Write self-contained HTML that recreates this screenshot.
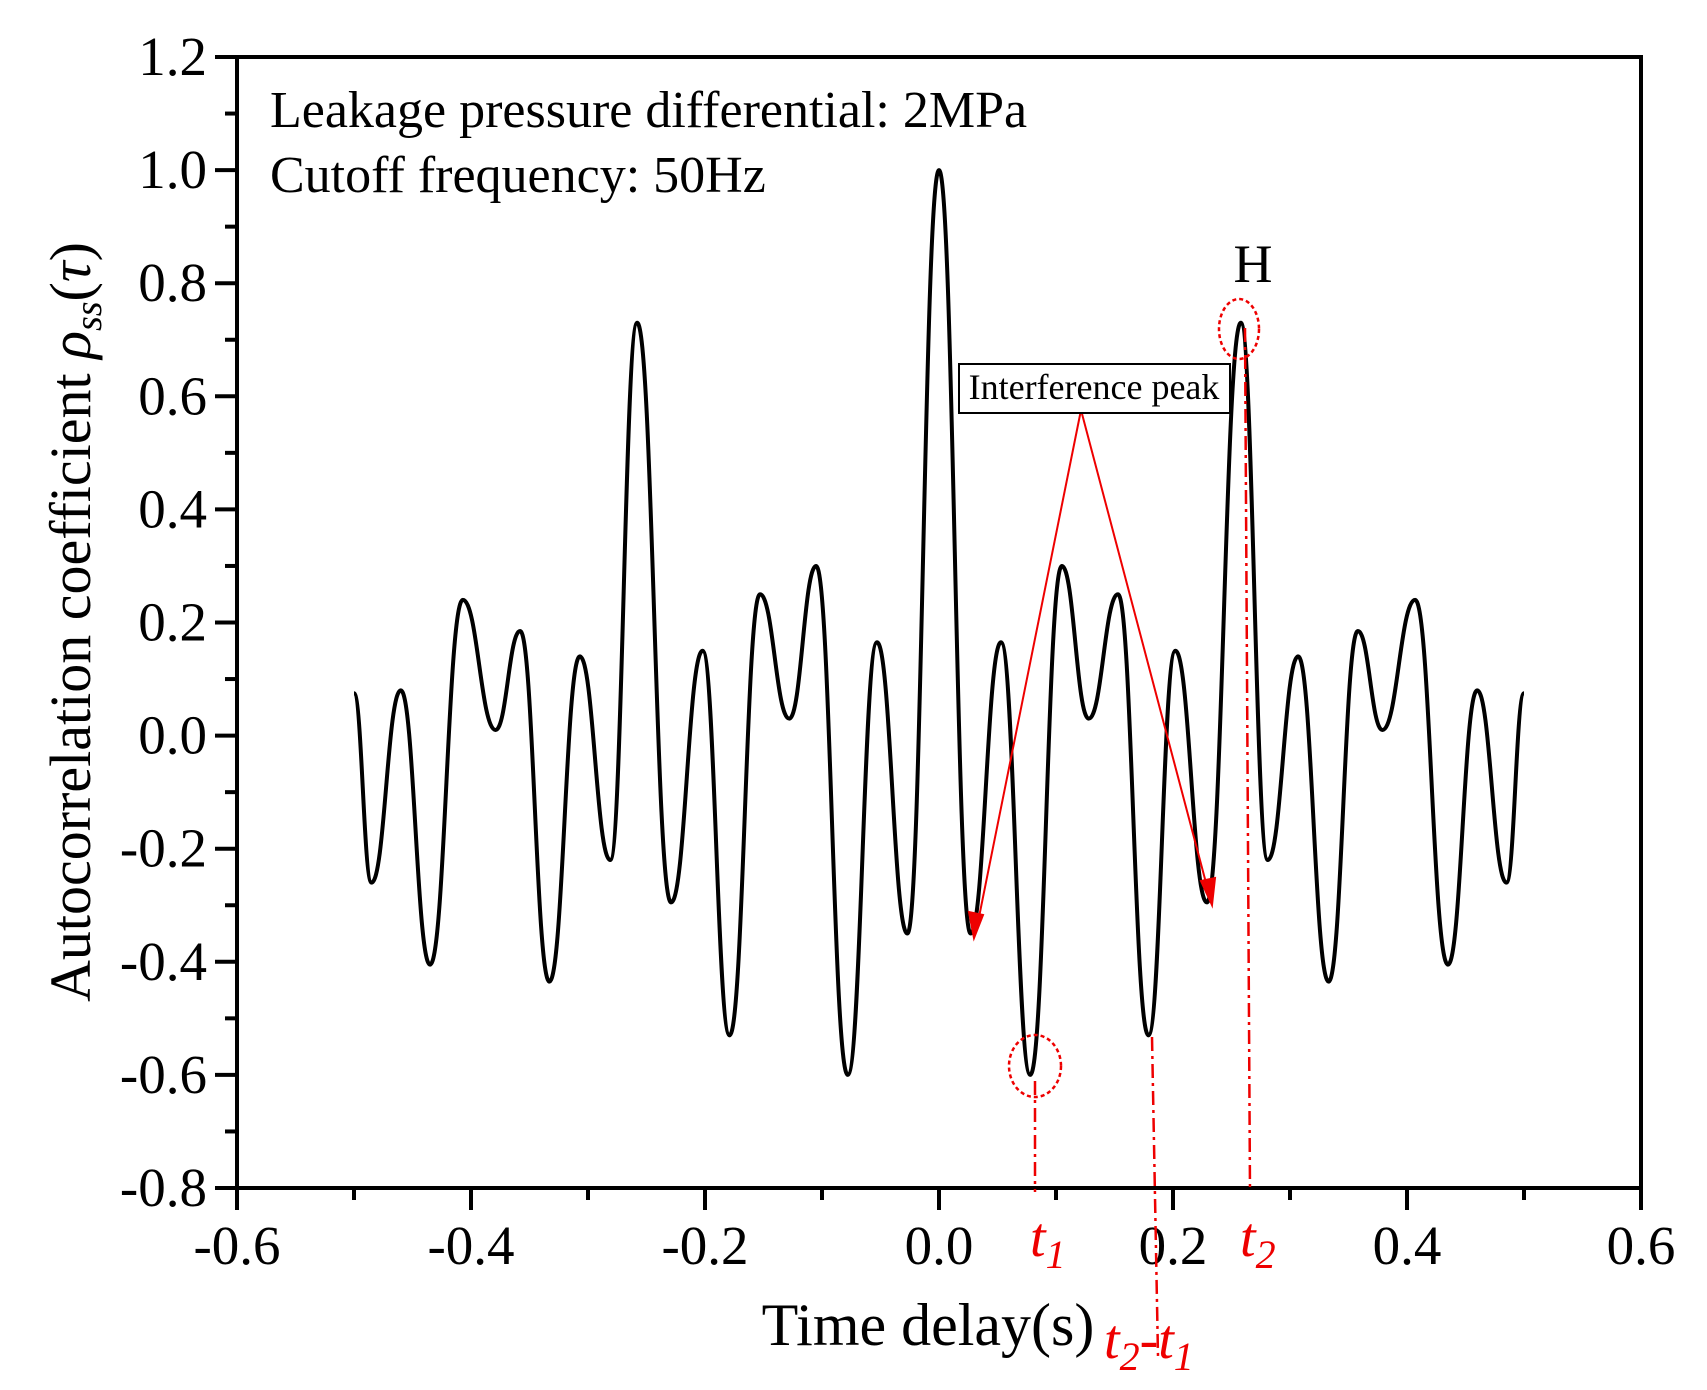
<!DOCTYPE html>
<html><head><meta charset="utf-8"><style>
body{margin:0;background:#fff}
svg{display:block;font-family:"Liberation Serif",serif}
</style></head><body>
<svg id="chart" width="1707" height="1390" viewBox="0 0 1707 1390" xmlns="http://www.w3.org/2000/svg">
<rect width="1707" height="1390" fill="#fff"/>
<g id="axes"></g>
<path id="curve" fill="none" stroke="#000" stroke-width="4"/>
<text x="270" y="127" font-size="52">Leakage pressure differential: 2MPa</text>
<text x="270" y="192" font-size="52">Cutoff frequency: 50Hz</text>
<text transform="translate(90,622) rotate(-90)" text-anchor="middle" font-size="58">Autocorrelation coefficient <tspan font-style="italic">ρ</tspan><tspan font-style="italic" font-size="38" dy="11">ss</tspan><tspan dy="-11">(</tspan><tspan font-style="italic">τ</tspan>)</text>
<text x="928" y="1345" text-anchor="middle" font-size="60">Time delay(s)</text>
<text x="1104" y="1358" fill="#e00" font-size="56" font-style="italic">t<tspan font-size="40" dy="12">2</tspan><tspan dy="-12" font-style="normal">-</tspan>t<tspan font-size="40" dy="12">1</tspan></text>
<text x="1030" y="1256" fill="#e00" font-size="56" font-style="italic">t<tspan font-size="40" dy="12">1</tspan></text>
<text x="1240" y="1256" fill="#e00" font-size="56" font-style="italic">t<tspan font-size="40" dy="12">2</tspan></text>
<text x="1253" y="282" text-anchor="middle" font-size="54">H</text>
<ellipse cx="1239" cy="329" rx="20" ry="30" fill="none" stroke="#e00" stroke-width="2.5" stroke-dasharray="4 3"/>
<ellipse cx="1035" cy="1066" rx="26" ry="31" fill="none" stroke="#e00" stroke-width="2.5" stroke-dasharray="4 3"/>
<g stroke="#e00" stroke-width="2.5" stroke-dasharray="14 5 3 5" fill="none">
<line x1="1035" y1="1081" x2="1035" y2="1192"/>
<line x1="1152" y1="1037" x2="1158" y2="1356"/>
<line x1="1245" y1="328" x2="1250" y2="1192"/>
</g>
<g stroke="#e00" stroke-width="2" fill="#e00">
<line x1="1081" y1="410" x2="976" y2="932"/>
<line x1="1081" y1="410" x2="1210" y2="898"/>
<polygon points="974,938 969,912 983,915"/>
<polygon points="1212,905 1201,881 1215,878"/>
</g>
<rect x="959" y="364" width="271" height="49" fill="#fff" stroke="#000" stroke-width="2"/>
<text x="1094" y="399" text-anchor="middle" font-size="36">Interference peak</text>
</svg>
<script>
const extremaX=[-0.5,-0.485,-0.46,-0.435,-0.407,-0.379,-0.358,-0.333,-0.307,-0.281,-0.258,-0.229,-0.202,-0.179,-0.153,-0.128,-0.105,-0.078,-0.053,-0.027,0,0.027,0.053,0.078,0.105,0.128,0.153,0.179,0.202,0.229,0.258,0.281,0.307,0.333,0.358,0.379,0.407,0.435,0.46,0.485,0.5];
const extremaY=[0.075,-0.26,0.08,-0.405,0.24,0.01,0.185,-0.435,0.14,-0.22,0.73,-0.295,0.15,-0.53,0.25,0.03,0.30,-0.60,0.165,-0.35,1.0,-0.35,0.165,-0.60,0.30,0.03,0.25,-0.53,0.15,-0.295,0.73,-0.22,0.14,-0.435,0.185,0.01,0.24,-0.405,0.08,-0.26,0.075];
const xTicks=[-0.6,-0.4,-0.2,0.0,0.2,0.4,0.6];
const yTicks=[-0.8,-0.6,-0.4,-0.2,0.0,0.2,0.4,0.6,0.8,1.0,1.2];
const NS="http://www.w3.org/2000/svg";
const X0=237,X1=1641,Y0=1188,Y1=57;
const sx=v=>X0+(v+0.6)/1.2*(X1-X0);
const sy=v=>Y0-(v+0.8)/2.0*(Y0-Y1);
const ax=document.getElementById('axes');
function mk(t,a){const e=document.createElementNS(NS,t);for(const k in a)e.setAttribute(k,a[k]);ax.appendChild(e);return e;}
const frame=mk('rect',{x:X0,y:Y1,width:X1-X0,height:Y0-Y1,fill:'none',stroke:'#000','stroke-width':4});


xTicks.forEach(v=>{
 const l=mk('line',{x1:sx(v),x2:sx(v),y1:Y0,y2:Y0+22,stroke:'#000','stroke-width':4});
 
 
 const t=mk('text',{x:sx(v),y:Y0+76,'text-anchor':'middle','font-size':55});
 
 
 t.textContent=v.toFixed(1);
});
for(let i=0;i<xTicks.length-1;i++){const v=(xTicks[i]+xTicks[i+1])/2;
 const l=mk('line',{x1:sx(v),x2:sx(v),y1:Y0,y2:Y0+12,stroke:'#000','stroke-width':4});
 
 }
yTicks.forEach(v=>{
 const l=mk('line',{x1:X0-22,x2:X0,y1:sy(v),y2:sy(v),stroke:'#000','stroke-width':4});
 
 
 const t=mk('text',{x:X0-30,y:sy(v)+18,'text-anchor':'end','font-size':55});
 
 
 t.textContent=v.toFixed(1);
});
for(let i=0;i<yTicks.length-1;i++){const v=(yTicks[i]+yTicks[i+1])/2;
 const l=mk('line',{x1:X0-12,x2:X0,y1:sy(v),y2:sy(v),stroke:'#000','stroke-width':4});
 
 }
let d='M'+sx(extremaX[0])+','+sy(extremaY[0]);
for(let i=1;i<extremaX.length;i++){
 const xa=sx(extremaX[i-1]),ya=sy(extremaY[i-1]),xb=sx(extremaX[i]),yb=sy(extremaY[i]);
 const dx=(xb-xa)*0.45;
 d+=` C${xa+dx},${ya} ${xb-dx},${yb} ${xb},${yb}`;
}
document.getElementById('curve').setAttribute('d',d);
</script>
</body></html>
